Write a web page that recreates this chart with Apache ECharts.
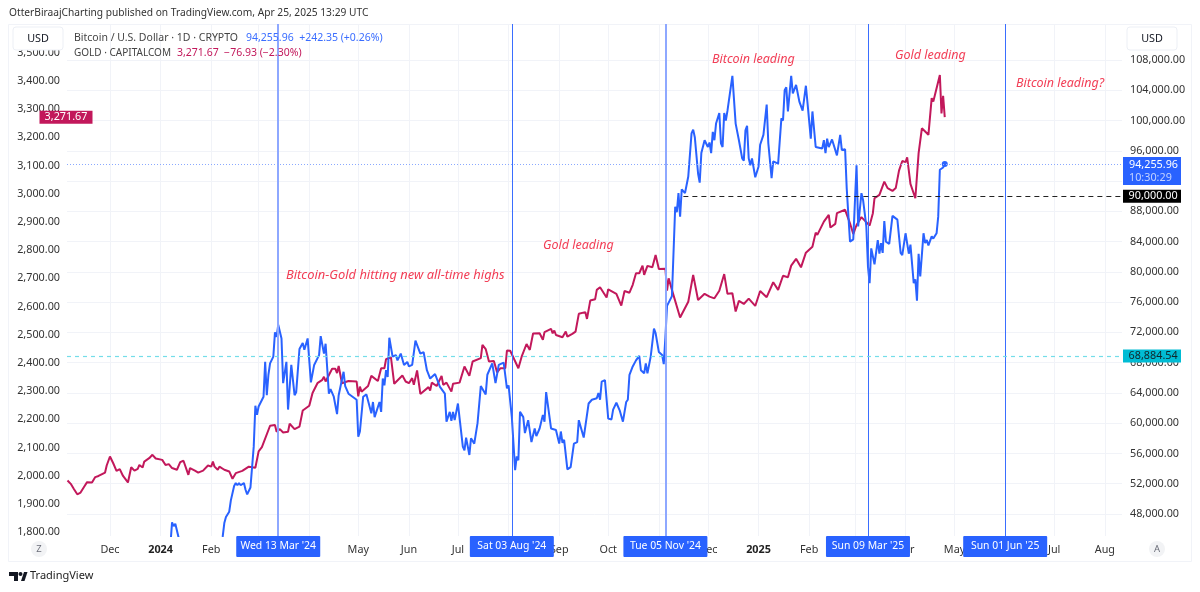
<!DOCTYPE html>
<html>
<head>
<meta charset="utf-8">
<style>html,body{margin:0;padding:0;background:#fff}#chart{width:1200px;height:592px}</style>
<script src="https://cdn.jsdelivr.net/npm/echarts@6/dist/echarts.min.js"></script>
</head>
<body>
<div id="chart"></div>
<script>
// day number = days after 1 Dec 2023, value = close
var goldPoints = [
[-26,1983],[-24,1971],[-22,1952],[-21,1956],[-20,1934],[-18,1940],[-16,1959],[-15,1956],[-14,1977],[-11,1976],[-9,1995],[-8,1988],[-7,1999],[-3,2011],[-2,2036],[-1,2032],
[0,2068],[2,2044],[4,2017],[6,2023],[8,1999],[11,1976],[13,2030],[14,2035],[15,2018],[17,2024],[18,2038],[20,2029],[21,2050],[24,2062],[26,2074],[28,2061],
[32,2056],[34,2038],[36,2041],[38,2027],[41,2021],[43,2048],[45,2053],[48,2003],[49,2027],[52,2018],[53,2024],[54,2011],[57,2018],[60,2036],[62,2032],[63,2050],
[64,2032],[66,2021],[67,2032],[70,2021],[73,2015],[75,1989],[77,2009],[81,2017],[82,2023],[85,2032],[89,2028],[91,2086],[93,2101],[98,2177],[101,2180],[102,2156],
[104,2165],[106,2153],[109,2156],[110,2184],[113,2165],[116,2174],[118,2231],[122,2248],[124,2293],[125,2289],[127,2328],[130,2340],[131,2351],[132,2334],[136,2379],[138,2379],
[139,2364],[140,2389],[142,2328],[146,2336],[151,2334],[152,2281],[153,2316],[154,2298],[158,2318],[160,2354],[164,2336],[166,2381],[168,2381],[169,2413],[172,2420],[174,2326],
[179,2355],[181,2334],[183,2328],[185,2346],[186,2322],[188,2373],[190,2290],[195,2314],[196,2302],[197,2330],[200,2318],[203,2354],[204,2322],[206,2330],[209,2298],[210,2326],
[214,2330],[217,2387],[220,2354],[222,2405],[227,2417],[228,2464],[230,2449],[232,2405],[235,2407],[237,2366],[239,2381],[242,2381],[243,2444],[245,2443],[250,2381],[252,2422],
[255,2467],[257,2446],[259,2504],[263,2505],[264,2510],[265,2482],[266,2509],[270,2521],[271,2505],[272,2515],[273,2499],[277,2491],[279,2511],[280,2493],[283,2503],[285,2511],
[287,2574],[291,2580],[292,2556],[294,2621],[297,2626],[298,2659],[300,2668],[304,2632],[305,2661],[310,2645],[313,2603],[315,2655],[318,2649],[320,2677],[322,2718],[324,2718],
[326,2745],[327,2712],[329,2744],[332,2739],[334,2783],[336,2733],[340,2734],[341,2656],[342,2700],[344,2659],[349,2561],[350,2561],[354,2617],[357,2712],[360,2623],[364,2645],
[367,2635],[368,2641],[370,2629],[373,2656],[376,2715],[378,2645],[381,2647],[383,2582],[385,2620],[388,2609],[391,2628],[395,2602],[398,2655],[402,2633],[406,2686],[409,2659],
[412,2709],[415,2704],[417,2745],[420,2769],[423,2739],[426,2791],[430,2812],[432,2862],[433,2854],[437,2901],[438,2895],[440,2925],[441,2880],[444,2893],[445,2931],[450,2943],
[451,2949],[453,2895],[455,2857],[457,2889],[460,2917],[465,2887],[467,2931],[468,2984],[471,2996],[474,3043],[475,3043],[476,3020],[479,3010],[481,3020],[483,3082],[485,3116],
[487,3112],[488,3129],[490,3035],[493,2984],[494,2978],[495,3144],[497,3232],[501,3209],[503,3339],[504,3327],[508,3421],[509,3285],[510,3347],[511,3271.67]
];
var btcPoints = [
[-26,35000],[0,38000],[16,42000],[30,42500],[37,43900],[38,46900],[39,46400],[40,46700],[41,46500],[42,44900],[44,42000],[50,40000],[60,42000],[68,43500],[69,45000],
[70,46800],[71,47600],[73,48300],[74,49800],[75,50000],[76,51700],[77,52100],[78,51800],[79,52100],[80,51800],[82,52100],[83,51200],[84,50600],[86,51500],[87,51700],[88,56900],
[89,62300],[90,61100],[91,62200],[92,62100],[94,63500],[95,68100],[96,63700],[97,66400],[98,67900],[100,68800],[101,72000],[102,71400],[103,73000],[105,71200],[106,65300],[108,68100],
[109,61800],[111,67700],[113,63700],[114,64100],[116,69800],[117,69800],[118,70600],[119,69700],[121,71200],[123,65400],[125,67700],[128,69000],[129,71500],[131,69200],[132,70500],
[134,63900],[135,64500],[137,63500],[139,61200],[140,63700],[143,66800],[144,64900],[146,63900],[151,63100],[152,58200],[153,58900],[155,63500],[157,63800],[160,61300],[161,62800],
[162,60800],[163,60800],[165,62800],[166,61500],[167,65900],[168,65000],[169,67000],[170,66100],[171,71300],[173,68800],[175,69000],[176,68300],[178,69200],[180,67700],[182,68100],
[183,67500],[185,67700],[187,70900],[188,70800],[190,69200],[192,69400],[194,67000],[196,65900],[199,66500],[202,64800],[205,63900],[206,60200],[208,61500],[209,60300],[210,61500],
[211,60400],[213,62600],[214,62400],[216,56900],[217,56400],[218,58100],[220,55800],[221,58000],[223,57300],[225,60000],[227,64900],[230,63800],[231,66400],[234,67900],[236,65300],
[238,67700],[241,68000],[243,64600],[244,65000],[246,60800],[248,53800],[249,55600],[250,55100],[251,61500],[253,60800],[254,58700],[256,60400],[258,57500],[260,59300],[261,58300],
[263,59300],[265,61100],[266,60200],[267,64100],[268,64100],[270,59300],[273,59100],[275,57300],[276,58900],[277,57400],[278,57800],[280,53900],[282,54200],[284,57300],[286,57500],
[287,60400],[290,58100],[293,62600],[295,63100],[298,63300],[299,64000],[300,63100],[301,65500],[303,65700],[305,60600],[307,60500],[308,61800],[310,62700],[312,61700],[314,60200],
[316,62800],[317,63100],[318,66400],[320,67500],[322,68300],[323,68100],[324,68900],[325,67000],[327,66600],[328,67900],[329,66600],[331,68800],[333,72500],[334,71900],[336,69400],
[338,69000],[339,67800],[340,71400],[341,75500],[344,76800],[346,88600],[347,87900],[348,90400],[349,87300],[350,90900],[352,90400],[353,90200],[354,92600],[356,98300],[357,98800],
[358,97800],[359,97800],[360,93000],[361,91800],[362,95700],[363,95700],[364,97400],[366,96500],[367,97100],[368,95700],[369,98500],[370,97400],[371,99600],[372,99800],[373,101000],
[374,97000],[375,96500],[376,101000],[377,100000],[378,101300],[379,101400],[381,105900],[382,106000],[383,99600],[385,97400],[386,97500],[387,95000],[388,94700],[389,98700],[390,99300],
[391,95000],[392,94100],[393,95000],[395,92500],[397,93900],[398,96800],[400,98100],[401,98100],[402,102100],[403,97000],[405,92400],[406,94600],[409,94300],[411,100300],[412,100000],
[413,104000],[414,104400],[415,101200],[417,105900],[418,103600],[420,104700],[422,102500],[424,101300],[426,104600],[427,102300],[429,97600],[430,101200],[432,96500],[436,96300],
[437,97400],[438,95700],[439,97600],[440,96500],[442,97500],[445,95400],[447,98100],[448,96100],[450,96200],[451,91000],[452,87500],[453,84000],[455,84300],[457,94100],[458,86000],
[460,90400],[461,89500],[463,86000],[464,80700],[465,78500],[466,83100],[468,81000],[470,84200],[471,82400],[472,83800],[473,82500],[474,86700],[475,84000],[477,83700],[479,87400],
[480,87300],[482,86900],[484,82500],[485,82200],[487,85100],[489,82400],[490,83600],[492,78500],[493,79000],[494,76200],[495,82400],[496,79400],[498,85100],[499,83800],[500,84200],
[501,83500],[503,84700],[504,84400],[506,85100],[507,87300],[508,93500],[510,93800],[511,94255.96]
];

var monthDates = ['2023-12-01','2024-01-01','2024-02-01','2024-03-01','2024-04-01','2024-05-01','2024-06-01','2024-07-01','2024-08-01','2024-09-01','2024-10-01','2024-11-01','2024-12-01','2025-01-01','2025-02-01','2025-03-01','2025-04-01','2025-05-01','2025-06-01','2025-07-01','2025-08-01'];
var monthLabels = ['Dec','{b|2024}','Feb','Mar','Apr','May','Jun','Jul','Aug','Sep','Oct','Nov','Dec','{b|2025}','Feb','Mar','Apr','May','Jun','Jul','Aug'];
var goldTicks = [1800,1900,2000,2100,2200,2300,2400,2500,2600,2700,2800,2900,3000,3100,3200,3300,3400,3500];
var btcTicks = [48000,52000,56000,60000,64000,68000,72000,76000,80000,84000,88000,92000,96000,100000,104000,108000];
var eventDates = ['2024-03-13','2024-08-03','2024-11-05','2025-03-09','2025-06-01'];
var eventLabels = ["Wed 13 Mar '24","Sat 03 Aug '24","Tue 05 Nov '24","Sun 09 Mar '25","Sun 01 Jun '25"];
var eventWidths = [2,1,2,1,1];

var DAY = 86400000;
var FONT = '"Noto Sans", sans-serif';
var BLUE = '#2962ff', PINK = '#c2185b', RED = '#f23d55', GREY = '#131722', GRID = '#f1f3f8';
var AXIS_SIZE = 10.8;

function toTime(s) { return Date.parse(s + 'T00:00:00Z'); }
function dayToTime(d) { return Date.UTC(2023, 11, 1) + d * DAY; }
function money(v) { return v.toLocaleString('en-US', {minimumFractionDigits: 2, maximumFractionDigits: 2}); }
function toSeries(points) { return points.map(function (p) { return [dayToTime(p[0]), p[1]]; }); }

var monthTimes = monthDates.map(toTime);
var lastBtc = btcPoints[btcPoints.length - 1];
var lastGold = goldPoints[goldPoints.length - 1];

var eventLines = eventDates.map(function (s, i) {
    var thick = eventWidths[i] === 2;
    return {
        xAxis: toTime(s),
        lineStyle: {color: thick ? '#8ea8ff' : '#3a6eff', width: eventWidths[i], type: 'solid'},
        label: {
            show: true, position: 'start', distance: 0, formatter: eventLabels[i],
            color: '#fff', fontFamily: FONT, fontSize: 10.4,
            backgroundColor: BLUE, borderRadius: 1,
            width: 84, height: 21, lineHeight: 21, align: 'center', verticalAlign: 'top'
        }
    };
});

function priceBox(bg, fg) {
    return {
        show: true, position: 'end', distance: 1, color: fg, fontFamily: FONT, fontSize: AXIS_SIZE,
        backgroundColor: bg, padding: [1, 0, 1, 0], width: 58, align: 'left', verticalAlign: 'middle'
    };
}

function boxText(x, y, w, h, txt) {
    return {
        type: 'rect', z: 60, shape: {x: x, y: y, width: w, height: h, r: 3},
        style: {fill: '#fff', stroke: '#eceff5', lineWidth: 1},
        textContent: {z: 61, style: {text: txt, font: AXIS_SIZE + 'px ' + FONT, fill: GREY}},
        textConfig: {position: 'inside'}
    };
}

function note(x, y, txt, size) {
    return {type: 'text', z: 40, x: x, y: y, style: {text: txt, font: 'italic ' + (size || 12.5) + 'px ' + FONT, fill: RED, textVerticalAlign: 'middle'}};
}

function circleBtn(x, y, txt) {
    return {
        type: 'circle', z: 60, shape: {cx: x, cy: y, r: 8}, style: {fill: '#f2f3f5'},
        textContent: {z: 61, style: {text: txt, font: '9.5px ' + FONT, fill: '#6a6d78'}},
        textConfig: {position: 'inside'}
    };
}

var option = {
    animation: false,
    backgroundColor: '#fff',
    textStyle: {fontFamily: FONT},
    grid: {left: 67, right: 78, top: 24, bottom: 56},
    xAxis: {
        type: 'value',
        min: dayToTime(-26.3),
        max: dayToTime(619.5),
        axisLine: {show: false},
        axisTick: {show: false, customValues: monthTimes},
        splitLine: {show: true, lineStyle: {color: GRID, width: 1}},
        axisLabel: {
            customValues: monthTimes,
            hideOverlap: false,
            margin: 8,
            color: '#333',
            fontSize: AXIS_SIZE,
            formatter: function (v) { return monthLabels[monthTimes.indexOf(v)] || ''; },
            rich: {b: {fontWeight: 'bold', fontSize: AXIS_SIZE, color: '#222'}}
        }
    },
    yAxis: [
        {
            type: 'value', position: 'left', min: 1786, max: 3602,
            axisLine: {show: false}, axisTick: {show: false, customValues: goldTicks}, splitLine: {show: false},
            axisLabel: {customValues: goldTicks, margin: 7, padding: [2, 0, 0, 0], color: '#333', fontSize: AXIS_SIZE, formatter: money}
        },
        {
            type: 'value', position: 'right', min: 45090, max: 112760,
            axisLine: {show: false}, axisTick: {show: false, customValues: btcTicks},
            splitLine: {show: true, lineStyle: {color: GRID, width: 1}},
            axisLabel: {customValues: btcTicks, margin: 8, padding: [2, 0, 0, 0], color: '#333', fontSize: AXIS_SIZE, formatter: money}
        }
    ],
    series: [
        {
            name: 'GOLD', type: 'line', yAxisIndex: 0, z: 3,
            data: toSeries(goldPoints), showSymbol: false,
            lineStyle: {color: PINK, width: 2}, itemStyle: {color: PINK},
            markLine: {
                silent: true, symbol: 'none', z: 20,
                data: [{
                    yAxis: lastGold[1],
                    lineStyle: {color: 'rgba(0,0,0,0)', width: 1},
                    label: {
                        show: true, position: 'start', distance: 1, formatter: money(lastGold[1]),
                        color: '#fff', fontFamily: FONT, fontSize: AXIS_SIZE, backgroundColor: PINK,
                        padding: [1, 0, 1, 0], width: 53, align: 'center', verticalAlign: 'middle'
                    }
                }]
            }
        },
        {
            name: 'BTC', type: 'line', yAxisIndex: 1, z: 4,
            data: toSeries(btcPoints), showSymbol: false,
            lineStyle: {color: BLUE, width: 2}, itemStyle: {color: BLUE},
            markPoint: {
                silent: true, symbol: 'circle', symbolSize: 6,
                itemStyle: {color: BLUE}, label: {show: false},
                data: [{coord: [dayToTime(lastBtc[0]), lastBtc[1]]}]
            },
            markLine: {
                silent: true, symbol: 'none', z: 20,
                data: eventLines.concat([
                    {
                        yAxis: lastBtc[1],
                        lineStyle: {color: '#8aa9ff', width: 1, type: [1, 2]},
                        label: {
                            show: true, position: 'end', distance: 1, offset: [0, 7],
                            formatter: '{a|' + money(lastBtc[1]) + '}\n{c|10:30:29}',
                            backgroundColor: BLUE, padding: [1, 0, 1, 0], width: 58, align: 'left', verticalAlign: 'middle',
                            rich: {
                                a: {color: '#fff', fontFamily: FONT, fontSize: AXIS_SIZE, lineHeight: 13, padding: [0, 0, 0, 6]},
                                c: {color: '#c4d3ff', fontFamily: FONT, fontSize: AXIS_SIZE, lineHeight: 13, padding: [0, 0, 0, 6]}
                            }
                        }
                    },
                    {
                        yAxis: 68884.54,
                        lineStyle: {color: '#74dde9', width: 1.2, type: [4, 4]},
                        label: Object.assign(priceBox('#00bcd4', '#10252a'), {formatter: '  ' + money(68884.54)})
                    },
                    [
                        {
                            coord: [dayToTime(351), 90000],
                            lineStyle: {color: '#222', width: 1, type: [5, 4]},
                            label: Object.assign(priceBox('#000', '#fff'), {formatter: '  ' + money(90000)})
                        },
                        {coord: [dayToTime(619.5), 90000]}
                    ]
                ])
            }
        }
    ],
    graphic: [
        {type: 'rect', z: 1, silent: true, shape: {x: 8.5, y: 24.5, width: 1183, height: 537}, style: {fill: 'none', stroke: '#f1f3f8', lineWidth: 1}},
        {type: 'text', z: 40, x: 9, y: 13, style: {text: 'OtterBiraajCharting published on TradingView.com, Apr 25, 2025 13:29 UTC', font: '10.2px ' + FONT, fill: '#333', textVerticalAlign: 'middle'}},
        boxText(13, 27, 50, 23, 'USD'),
        boxText(1127, 27, 50, 23, 'USD'),
        {type: 'text', z: 40, x: 74, y: 38, style: {text: 'Bitcoin / U.S. Dollar · 1D · CRYPTO', font: '10.5px ' + FONT, fill: '#444', textVerticalAlign: 'middle'}},
        {type: 'text', z: 40, x: 246, y: 38, style: {text: '94,255.96  +242.35 (+0.26%)', font: '10.5px ' + FONT, fill: '#3a6dff', textVerticalAlign: 'middle'}},
        {type: 'text', z: 40, x: 74, y: 53, style: {text: 'GOLD · CAPITALCOM', font: '10px ' + FONT, fill: '#444', textVerticalAlign: 'middle'}},
        {type: 'text', z: 40, x: 177, y: 53, style: {text: '3,271.67  −76.93 (−2.30%)', font: '10.5px ' + FONT, fill: PINK, textVerticalAlign: 'middle'}},
        note(286, 275, 'Bitcoin-Gold hitting new all-time highs', 12.9),
        note(543, 245, 'Gold leading'),
        note(712, 59, 'Bitcoin leading'),
        note(895, 55, 'Gold leading'),
        note(1016, 83, 'Bitcoin leading?'),
        circleBtn(39, 549, 'Z'),
        circleBtn(1157, 549, 'A'),
        {type: 'polygon', z: 40, shape: {points: [[9, 572], [18, 572], [18, 581], [14, 581], [14, 576], [9, 576]]}, style: {fill: '#131722'}},
        {type: 'circle', z: 40, shape: {cx: 20.5, cy: 574, r: 2}, style: {fill: '#131722'}},
        {type: 'polygon', z: 40, shape: {points: [[21, 581], [24, 572], [27.5, 572], [24.5, 581]]}, style: {fill: '#131722'}},
        {type: 'text', z: 40, x: 30, y: 576, style: {text: 'TradingView', font: '11px ' + FONT, fill: '#222', textVerticalAlign: 'middle'}}
    ]
};

var myChart = echarts.init(document.getElementById('chart'), null, {renderer: 'canvas'});
myChart.setOption(option);
window.onresize = myChart.resize;
</script>
</body>
</html>
